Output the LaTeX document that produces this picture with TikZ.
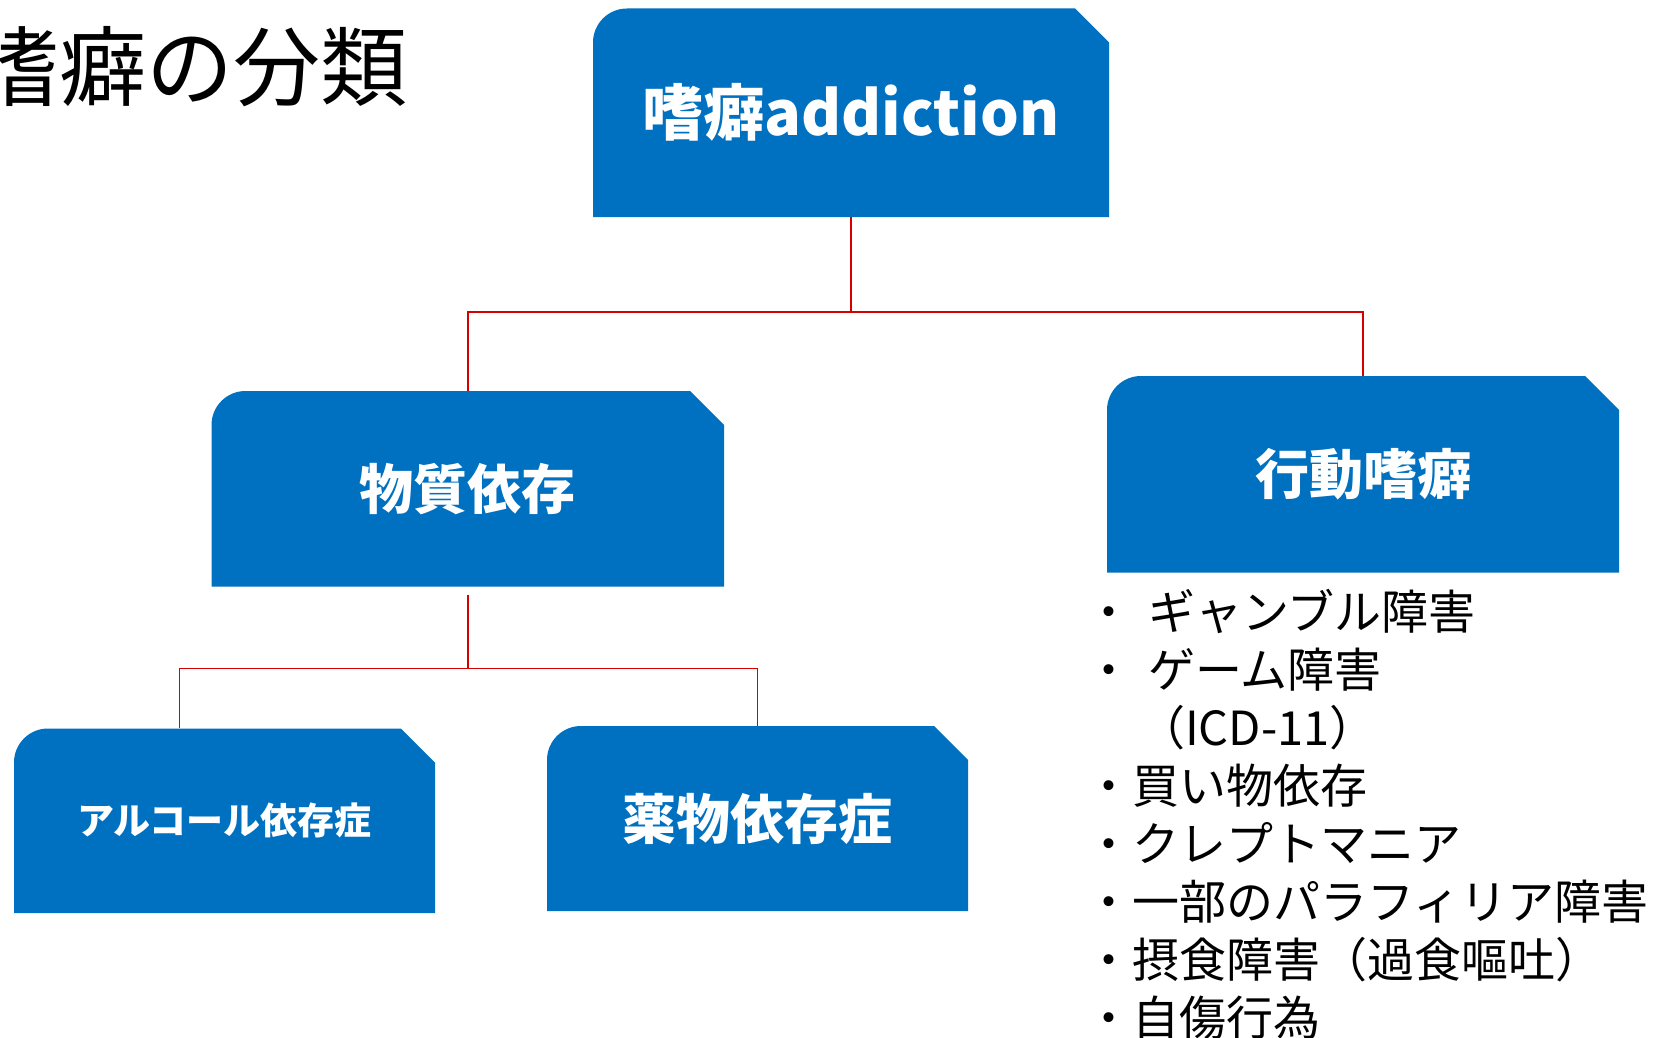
\documentclass[tikz,border=0pt]{standalone}
\usepackage{fontspec}
\newfontfamily\jp{Noto Sans CJK JP}
\usetikzlibrary{calc}
\definecolor{boxblue}{RGB}{0,112,192}
\definecolor{connred}{RGB}{214,0,0}
\tikzset{
  blktext/.style={inner sep=0pt, text=white, font=\jp\bfseries, draw=none},
  conn/.style={draw=connred, line width=1.5pt},
  listline/.style={anchor=base west, inner sep=0pt, font=\jp\fontsize{47pt}{56pt}\selectfont, text=black},
}
% name, x1, y1, x2, y2, font size, text
\newcommand\blkbox[7]{%
  \fill[boxblue] (#2,#5) -- (#2,#3+34) .. controls (#2,#3+15.2) and (#2+15.2,#3) .. (#2+34,#3)
     -- (#4-34,#3) -- (#4,#3+34) -- (#4,#5) -- cycle;
  \node[blktext, minimum width={(#4-#2)*1pt}, minimum height={(#5-#3)*1pt},
        font=\jp\bfseries\fontsize{#6}{#6}\selectfont] (#1) at ({(#2+#4)/2},{(#3+#5)/2}) {#7};
}
\begin{document}
\begin{tikzpicture}[x=1pt,y=-1pt]
\useasboundingbox (0,0) rectangle (1675,1038);
\fill[white] (0,0) rectangle (1675,1038);

% title
\node[anchor=base west, inner sep=0pt, font=\jp\fontsize{87pt}{87pt}\selectfont] (title) at (-28,100) {嗜癖の分類};

% boxes
\blkbox{top}{593}{8.5}{1109}{217}{61pt}{嗜癖addiction}
\blkbox{subst}{211.5}{391}{724}{586.5}{54pt}{物質依存}
\blkbox{behav}{1107}{376}{1619}{572.5}{54pt}{行動嗜癖}
\blkbox{alc}{14}{728.5}{435}{913}{37pt}{アルコール依存症}
\blkbox{drug}{547}{726}{968}{911}{54pt}{薬物依存症}

% connectors
\coordinate (split1) at ($(top.south)+(0,95)$);
\draw[conn] (top.south) -- (split1) -| (subst.north);
\draw[conn] (split1) -| (behav.north);
\coordinate (split2) at ($(subst.south)+(0,82)$);
\coordinate (alcin) at ($(alc.north west)!0.393!(alc.north east)$);
\draw[conn, shorten <=8pt] (subst.south) -- (split2);
\draw[conn] (split2) -| (alcin);
\draw[conn] (split2) -| (drug.north);

% list
\node[listline] (l1) at (1085,629) {・\hspace{16pt}ギャンブル障害};
\node[listline] (l2) at (1085,687) {・\hspace{16pt}ゲーム障害};
\node[listline] (l3) at (1091,745) {　（ICD-11）};
\node[listline] (l4) at (1085,803) {・買い物依存};
\node[listline] (l5) at (1085,861) {・クレプトマニア};
\node[listline] (l6) at (1085,919) {・一部のパラフィリア障害};
\node[listline] (l7) at (1085,977) {・摂食障害（過食嘔吐）};
\node[listline] (l8) at (1085,1035) {・自傷行為};
\end{tikzpicture}
\end{document}
